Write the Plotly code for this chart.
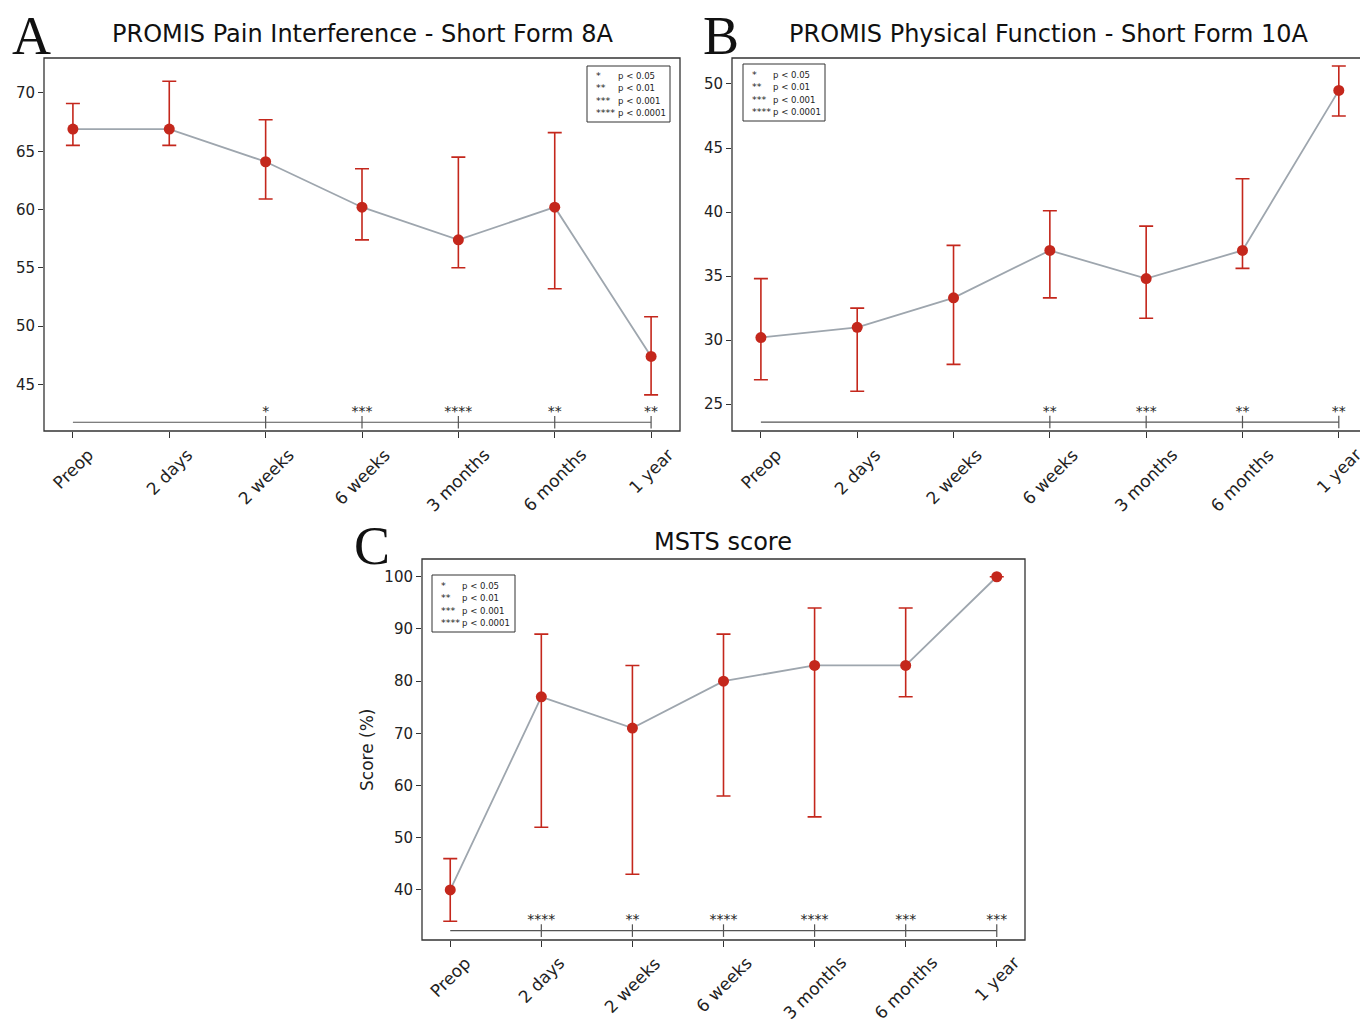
import plotly.graph_objects as go

W, H = 1360, 1020

categories = ["Preop", "2 days", "2 weeks", "6 weeks", "3 months", "6 months", "1 year"]

# Panel A: PROMIS Pain Interference
a_mean = [66.9, 66.9, 64.1, 60.2, 57.4, 60.2, 47.4]
a_upper = [69.1, 71.0, 67.7, 63.5, 64.5, 66.6, 50.8]
a_lower = [65.5, 65.5, 60.9, 57.4, 55.0, 53.2, 44.1]
a_stars = ["", "", "*", "***", "****", "**", "**"]

# Panel B: PROMIS Physical Function
b_mean = [30.2, 31.0, 33.3, 37.0, 34.8, 37.0, 49.5]
b_upper = [34.8, 32.5, 37.4, 40.1, 38.9, 42.6, 51.4]
b_lower = [26.9, 26.0, 28.1, 33.3, 31.7, 35.6, 47.5]
b_stars = ["", "", "", "**", "***", "**", "**"]

# Panel C: MSTS score
c_mean = [40, 77, 71, 80, 83, 83, 100]
c_upper = [46, 89, 83, 89, 94, 94, 100]
c_lower = [34, 52, 43, 58, 54, 77, 100]
c_stars = ["", "****", "**", "****", "****", "***", "***"]

legend_stars = ["*", "**", "***", "****"]
legend_p = ["p < 0.05", "p < 0.01", "p < 0.001", "p < 0.0001"]

RED = "#c4271c"
GRAY = "#9ea6ae"
DARK = "#333333"
SIG = "#555555"


def px(x):
    return x / W


def py(y):
    return 1 - y / H


fig = go.Figure()

panels = [
    dict(mean=a_mean, up=a_upper, lo=a_lower, stars=a_stars, xa="x", ya="y",
         sig_y=41.75, star_y=42.6, dom_x=(44, 680), dom_y=(58, 431),
         yr=[41.0, 73.0], ytick=[45, 50, 55, 60, 65, 70], xr=[-0.3, 6.3],
         frame=(44, 58, 680, 431), lab_top=442,
         title="PROMIS Pain Interference - Short Form 8A", title_xy=(362, 34),
         letter="A", letter_xy=(31, 36),
         leg=(587, 66, 670, 122, 594, 616)),
    dict(mean=b_mean, up=b_upper, lo=b_lower, stars=b_stars, xa="x2", ya="y2",
         sig_y=23.6, star_y=24.35, dom_x=(732, 1360), dom_y=(58, 431),
         yr=[22.9, 52.03], ytick=[25, 30, 35, 40, 45, 50], xr=[-0.3, 6.22],
         frame=(732, 58, 1375, 431), lab_top=442,
         title="PROMIS Physical Function - Short Form 10A", title_xy=(1049, 34),
         letter="B", letter_xy=(721, 36),
         leg=(743, 64, 825, 121, 750, 771)),
    dict(mean=c_mean, up=c_upper, lo=c_lower, stars=c_stars, xa="x3", ya="y3",
         sig_y=32.2, star_y=34.2, dom_x=(422, 1025), dom_y=(559, 940),
         yr=[30.4, 103.4], ytick=[40, 50, 60, 70, 80, 90, 100], xr=[-0.31, 6.31],
         frame=(422, 559, 1025, 940), lab_top=950,
         title="MSTS score", title_xy=(723, 542),
         letter="C", letter_xy=(372, 546),
         leg=(432, 575, 515, 632, 439, 460)),
]

shapes = []
annotations = []

for i, p in enumerate(panels):
    n = "" if i == 0 else str(i + 1)
    err_plus = [u - m for u, m in zip(p["up"], p["mean"])]
    err_minus = [m - l for m, l in zip(p["mean"], p["lo"])]
    # significance bar
    fig.add_trace(go.Scatter(
        x=categories, y=[p["sig_y"]] * len(categories), mode="lines",
        line=dict(color=SIG, width=1.2), xaxis=p["xa"], yaxis=p["ya"],
        showlegend=False, hoverinfo="skip"))
    sx = [c for c, s in zip(categories, p["stars"]) if s]
    ss = [s for s in p["stars"] if s]
    fig.add_trace(go.Scatter(
        x=sx, y=[p["sig_y"]] * len(sx), mode="markers",
        marker=dict(symbol="line-ns-open", size=9, color=SIG, line=dict(color=SIG, width=1.2)),
        xaxis=p["xa"], yaxis=p["ya"], showlegend=False, hoverinfo="skip"))
    fig.add_trace(go.Scatter(
        x=sx, y=[p["star_y"]] * len(sx), mode="text", text=ss,
        textfont=dict(family="DejaVu Sans", size=14, color="#222222"),
        textposition="middle center",
        xaxis=p["xa"], yaxis=p["ya"], showlegend=False, hoverinfo="skip"))
    # main series
    fig.add_trace(go.Scatter(
        x=categories, y=p["mean"], mode="lines+markers",
        line=dict(color=GRAY, width=1.8),
        marker=dict(color=RED, size=11),
        error_y=dict(type="data", symmetric=False, array=err_plus, arrayminus=err_minus,
                     color=RED, thickness=1.6, width=7),
        xaxis=p["xa"], yaxis=p["ya"], showlegend=False))

    x0, x1 = p["dom_x"]
    y0, y1 = p["dom_y"]
    fig.update_layout(**{
        "xaxis" + n: dict(domain=[px(x0), min(px(x1), 1.0)], range=p["xr"],
                          anchor="y" + n, showticklabels=False, ticks="outside",
                          ticklen=6, tickcolor=DARK, showgrid=False, zeroline=False,
                          showline=False, categoryorder="array", categoryarray=categories),
        "yaxis" + n: dict(domain=[py(y1), py(y0)], range=p["yr"], anchor="x" + n,
                          tickvals=p["ytick"], ticks="outside", ticklen=5, tickcolor=DARK,
                          showgrid=False, zeroline=False, showline=False,
                          tickfont=dict(family="DejaVu Sans", size=15, color="#222222")),
    })
    fx0, fy0, fx1, fy1 = p["frame"]
    shapes.append(dict(type="rect", xref="paper", yref="paper",
                       x0=px(fx0), x1=px(fx1), y0=py(fy1), y1=py(fy0),
                       line=dict(color=DARK, width=1.3), layer="above"))
    # x tick labels
    for c in categories:
        annotations.append(dict(text=c, x=c, xref=p["xa"], y=py(p["lab_top"]), yref="paper",
                                xanchor="center", yanchor="top", textangle=-45,
                                showarrow=False,
                                font=dict(family="DejaVu Sans", size=17, color="#222222")))
    # title
    annotations.append(dict(text=p["title"], x=px(p["title_xy"][0]), y=py(p["title_xy"][1]),
                            xref="paper", yref="paper", xanchor="center", yanchor="middle",
                            showarrow=False,
                            font=dict(family="DejaVu Sans", size=24, color="#111111")))
    annotations.append(dict(text=p["letter"], x=px(p["letter_xy"][0]), y=py(p["letter_xy"][1]),
                            xref="paper", yref="paper", xanchor="center", yanchor="middle",
                            showarrow=False,
                            font=dict(family="Liberation Serif", size=54, color="#111111")))
    # significance legend box
    lx0, ly0, lx1, ly1, sxp, pxp = p["leg"]
    shapes.append(dict(type="rect", xref="paper", yref="paper",
                       x0=px(lx0), x1=px(lx1), y0=py(ly1), y1=py(ly0),
                       line=dict(color=DARK, width=1), fillcolor="white", layer="above"))
    ymid = (ly0 + ly1) / 2
    annotations.append(dict(text="<br>".join(legend_stars), x=px(sxp), y=py(ymid),
                            xref="paper", yref="paper", xanchor="left", yanchor="middle",
                            align="left", showarrow=False,
                            font=dict(family="DejaVu Sans", size=9.5, color="#222222")))
    annotations.append(dict(text="<br>".join(legend_p), x=px(pxp), y=py(ymid),
                            xref="paper", yref="paper", xanchor="left", yanchor="middle",
                            align="left", showarrow=False,
                            font=dict(family="DejaVu Sans Condensed", size=9.5, color="#222222")))

annotations.append(dict(text="Score (%)", x=px(367), y=py(750), xref="paper", yref="paper",
                        xanchor="center", yanchor="middle", textangle=-90, showarrow=False,
                        font=dict(family="DejaVu Sans", size=17, color="#222222")))

fig.update_layout(width=W, height=H, margin=dict(l=0, r=0, t=0, b=0),
                  paper_bgcolor="white", plot_bgcolor="white",
                  shapes=shapes, annotations=annotations, showlegend=False)

fig.write_html("out.html", config={"displayModeBar": False},
               post_script="document.body.style.margin='0';document.body.style.overflow='hidden';")
